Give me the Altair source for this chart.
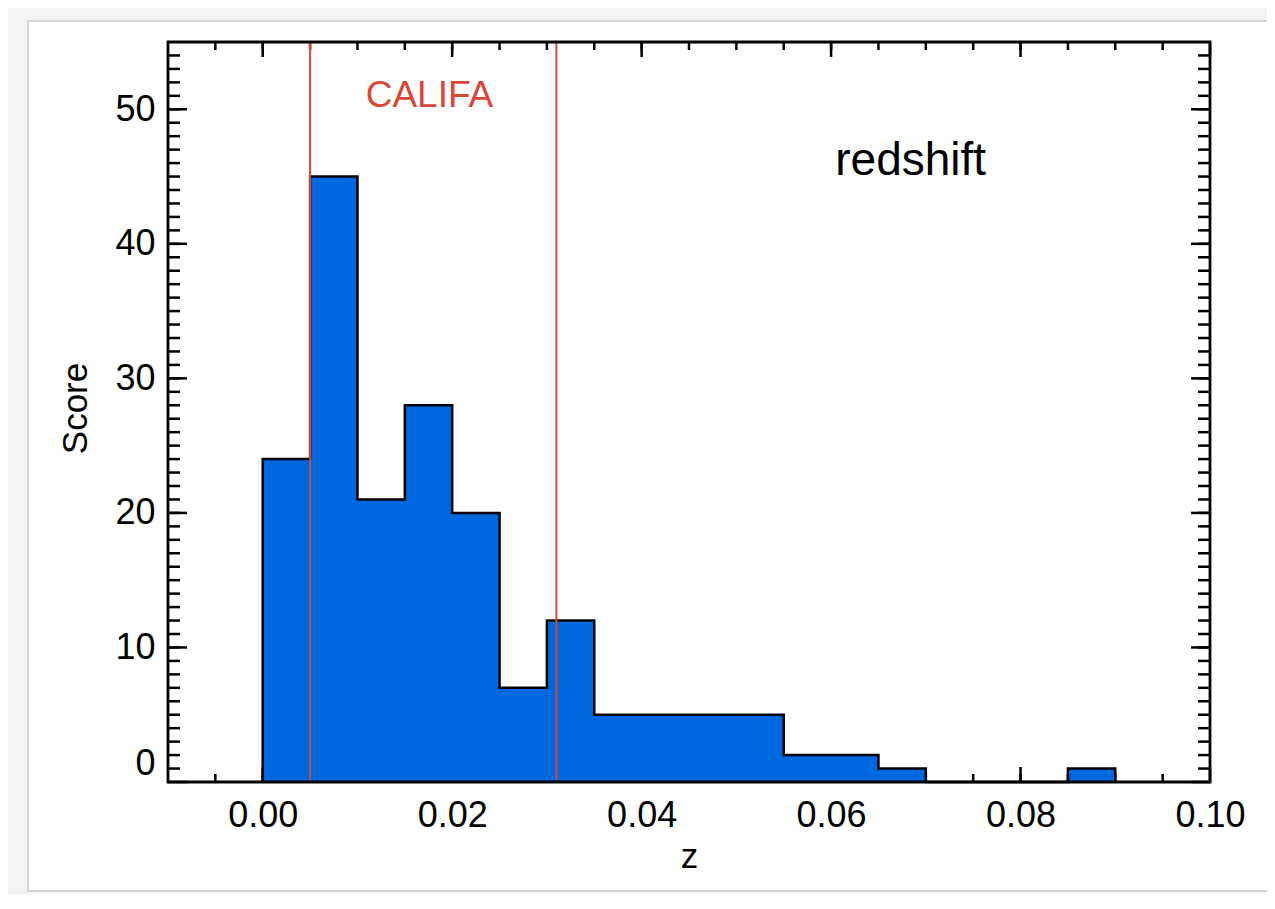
import altair as alt
import pandas as pd

# ---------------- data ----------------
bin_left = [0.000, 0.005, 0.010, 0.015, 0.020, 0.025, 0.030, 0.035, 0.040,
            0.045, 0.050, 0.055, 0.060, 0.065, 0.070, 0.075, 0.080, 0.085]
bin_width = 0.005
counts = [24, 45, 21, 28, 20, 7, 12, 5, 5, 5, 5, 2, 2, 1, 0, 0, 0, 1]
califa_limits = [0.005, 0.031]
x_tick_labels = [0.00, 0.02, 0.04, 0.06, 0.08, 0.10]
y_tick_labels = [0, 10, 20, 30, 40, 50]
x_minor_ticks = [-0.005, 0.000, 0.005, 0.010, 0.015, 0.020, 0.025, 0.030, 0.035,
                 0.040, 0.045, 0.050, 0.055, 0.060, 0.065, 0.070, 0.075, 0.080,
                 0.085, 0.090, 0.095]
y_minor_ticks = list(range(1, 55))
x_domain = [-0.01, 0.10]
y_domain = [0, 55]

# ---------------- layout / style ----------------
W, H = 1042, 740
FONT = "Liberation Sans"
BLUE = "#0068DE"
RED = "#D9473B"

xs = alt.Scale(domain=x_domain, nice=False, zero=False)
ys = alt.Scale(domain=y_domain, nice=False, zero=False)
xaxis = alt.Axis(values=x_tick_labels, format=".2f", title="z", ticks=False, tickSize=0,
                 domain=False, grid=False, labelPadding=16, labelFlush=False,
                 labelOverlap=False, titleX=W / 2, titleY=85,
                 titleAlign="center", titleBaseline="alphabetic", zindex=5,
                 labelFont=FONT, labelFontSize=36, labelColor="black",
                 titleFont=FONT, titleFontSize=35, titleFontWeight="normal",
                 titleColor="black")
yaxis = alt.Axis(values=y_tick_labels, format="d", title="Score", ticks=False, tickSize=0,
                 domain=False, grid=False, labelPadding=13, labelFlush=True,
                 titleAngle=270, titleX=-93, titleY=H / 2 - 4, titleAlign="center",
                 titleBaseline="middle", zindex=5,
                 labelFont=FONT, labelFontSize=36, labelColor="black",
                 titleFont=FONT, titleFontSize=35, titleFontWeight="normal",
                 titleColor="black")


def X(field):
    return alt.X(field, type="quantitative", scale=xs, axis=xaxis)


def Y(field):
    return alt.Y(field, type="quantitative", scale=ys, axis=yaxis)


bars_df = pd.DataFrame({"left": bin_left,
                        "right": [b + bin_width for b in bin_left],
                        "count": counts})

# step outline vertices built from the histogram
ox, oy = [bin_left[0]], [0]
for l, c in zip(bin_left, counts):
    ox += [l, l + bin_width]
    oy += [c, c]
ox.append(bin_left[-1] + bin_width)
oy.append(0)
outline_df = pd.DataFrame({"x": ox, "y": oy, "i": list(range(len(ox)))})

one = alt.Data(values=[{"a": 1}])

card = alt.Chart(one).mark_rect(fill="white", stroke="#d6d6d6", strokeWidth=2).encode(
    x=alt.value(-140), x2=alt.value(1100), y=alt.value(-21), y2=alt.value(849))


def xticks(vals, length):
    df = pd.DataFrame({"v": vals})
    base = alt.Chart(df).mark_rule(color="black", strokeWidth=2.5)
    bottom = base.encode(x=X("v"), y=alt.value(H), y2=alt.value(H - length))
    top = base.encode(x=X("v"), y=alt.value(0), y2=alt.value(length))
    return [bottom, top]


def yticks(vals, length):
    df = pd.DataFrame({"v": vals})
    base = alt.Chart(df).mark_rule(color="black", strokeWidth=2.5)
    left = base.encode(y=Y("v"), x=alt.value(0), x2=alt.value(length))
    right = base.encode(y=Y("v"), x=alt.value(W), x2=alt.value(W - length))
    return [left, right]


tick_layers = (xticks(x_minor_ticks, 8) + xticks(x_tick_labels, 15)
               + yticks(y_minor_ticks, 12) + yticks(y_tick_labels, 19))

bars = alt.Chart(bars_df).mark_rect(color=BLUE, stroke=BLUE, strokeWidth=1).encode(
    x=X("left"), x2="right", y=Y("count"), y2=alt.datum(0))

outline = alt.Chart(outline_df).mark_line(color="black", strokeWidth=2.5,
                                          interpolate="linear").encode(
    x=X("x"), y=Y("y"), order="i:Q")

califa = alt.Chart(pd.DataFrame({"v": califa_limits})).mark_rule(
    color=RED, strokeWidth=2).encode(x=X("v"), y=alt.value(0), y2=alt.value(H))

califa_label = alt.Chart(one).mark_text(
    text="CALIFA", font=FONT, fontSize=37, color=RED, align="center",
    baseline="alphabetic").encode(
    x=alt.XDatum(0.0176, type="quantitative", scale=xs, axis=xaxis),
    y=alt.YDatum(50.17, type="quantitative", scale=ys, axis=yaxis))

redshift_label = alt.Chart(one).mark_text(
    text="redshift", font=FONT, fontSize=46, color="black", align="center",
    baseline="alphabetic").encode(
    x=alt.XDatum(0.0684, type="quantitative", scale=xs, axis=xaxis),
    y=alt.YDatum(45.1, type="quantitative", scale=ys, axis=yaxis))

frame = alt.Chart(one).mark_rect(filled=False, stroke="black", strokeWidth=2.8).encode(
    x=alt.value(0), x2=alt.value(W), y=alt.value(0), y2=alt.value(H))

chart = alt.layer(
    card, *tick_layers, bars, outline, califa, califa_label, redshift_label, frame
).properties(
    width=W, height=H,
    autosize=alt.AutoSizeParams(type="none"),
    padding={"left": 160, "top": 34, "right": 57, "bottom": 112},
    background="#f3f3f3",
).configure_view(stroke=None)

chart.save("out.html", embed_options={"renderer": "svg", "actions": False})
